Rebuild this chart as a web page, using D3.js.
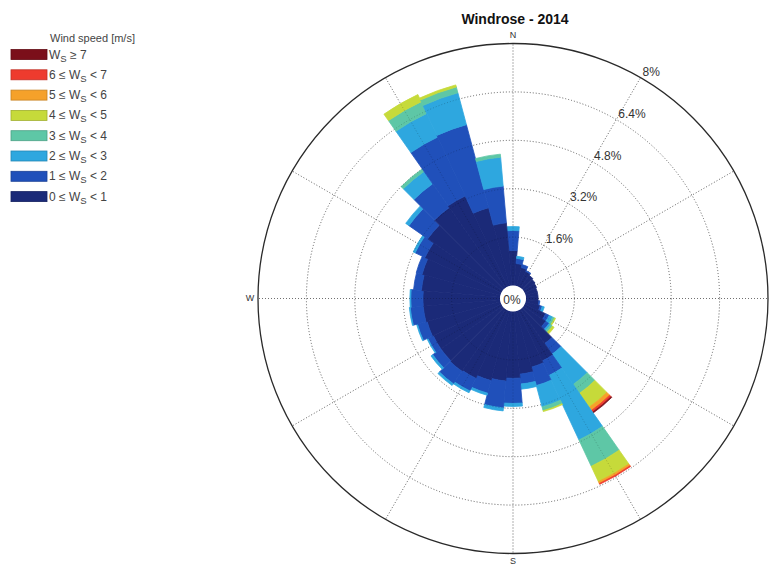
<!DOCTYPE html>
<html>
<head>
<meta charset="utf-8">
<script src="https://cdn.jsdelivr.net/npm/d3@7"></script>
<style>
  html, body { margin: 0; padding: 0; background: #fff; }
  svg { display: block; font-family: "Liberation Sans", Arial, sans-serif; background: #fff; }
</style>
</head>
<body>
<svg id="chart" width="772" height="565"></svg>
<script>
// ---------------- data ----------------
const directions = [0,10,20,30,40,50,60,70,80,90,100,110,120,130,140,150,160,170,
                    180,190,200,210,220,230,240,250,260,270,280,290,300,310,320,330,340,350];

const ws0_1 = [1.16,0.73,0.63,0.56,0.50,0.46,0.43,0.40,0.40,0.40,0.43,0.50,0.76,0.89,1.39,1.85,1.92,2.08,
               2.21,2.31,2.38,2.48,2.51,2.48,2.48,2.51,2.55,2.55,2.61,2.68,2.78,3.01,3.24,3.31,2.68,2.08];
const ws1_2 = [0.66,0.17,0.10,0.03,0,0,0,0,0,0,0.03,0.07,0.13,0.13,0.43,0.53,0.63,0.33,
               0.83,0.89,0.43,0.46,0.50,0.33,0.20,0.33,0.43,0.40,0.26,0.20,0.36,0.76,0.96,2.15,2.84,1.22];
const ws2_3 = [0.13,0.07,0,0,0,0,0,0,0,0,0,0.07,0.13,0.07,1.22,2.35,0.73,0.17,
               0.10,0.10,0.07,0.07,0.07,0.07,0.03,0.03,0.03,0.03,0,0,0.07,0.13,0.50,0.86,1.09,0.96];
const ws3_4 = [0,0,0,0,0,0,0,0,0,0,0,0,0.07,0.07,0.36,0.96,0.13,0,
               0,0,0,0,0,0,0,0,0,0,0,0,0,0,0.10,0.43,0.20,0.10];
const ws4_5 = [0,0,0,0,0,0,0,0,0,0,0,0,0.03,0.07,0.56,0.56,0.03,0,
               0,0,0,0,0,0,0,0,0,0,0,0,0,0,0,0.26,0.07,0];
const ws5_6 = [0,0,0,0,0,0,0,0,0,0,0,0,0,0,0.13,0.07,0,0,
               0,0,0,0,0,0,0,0,0,0,0,0,0,0,0,0,0,0];
const ws6_7 = [0,0,0,0,0,0,0,0,0,0,0,0,0,0,0.07,0.03,0,0,
               0,0,0,0,0,0,0,0,0,0,0,0,0,0,0,0,0,0];
const ws7up = [0,0,0,0,0,0,0,0,0,0,0,0,0,0,0.03,0,0,0,
               0,0,0,0,0,0,0,0,0,0,0,0,0,0,0,0,0,0];

const seriesValues = [ws0_1, ws1_2, ws2_3, ws3_4, ws4_5, ws5_6, ws6_7, ws7up];
const seriesColors = ["#1b2a78","#2050ba","#2ea7df","#5ec7a6","#c6da3a","#f5a12a","#ee3b2e","#7b0f1a"];
const seriesLow = ["0","1","2","3","4","5","6","7"];
const seriesHigh = ["1","2","3","4","5","6","7",null];

const ringTicks = [1.6, 3.2, 4.8, 6.4, 8];
const ringLabels = ["1.6%","3.2%","4.8%","6.4%","8%"];
const compass = [{a:0,t:"N"},{a:180,t:"S"},{a:270,t:"W"}];
const spokeAngles = [0,30,60,90,120,150,180,210,240,270,300,330];

// ---------------- layout ----------------
const svg = d3.select("#chart");
const cx = 513, cy = 298.5;
const r = d3.scaleLinear().domain([0, 8]).range([13, 255]);
const rad = d => d * Math.PI / 180;
const binHalf = 5;

const g = svg.append("g").attr("transform", `translate(${cx},${cy})`);

function drawGrid(parent, color) {
  const gg = parent.append("g");
  gg.selectAll("circle").data(ringTicks.slice(0, -1)).join("circle")
    .attr("r", d => r(d))
    .attr("fill", "none")
    .attr("stroke", color)
    .attr("stroke-width", 1)
    .attr("stroke-dasharray", "1,2");
  gg.selectAll("line").data(spokeAngles).join("line")
    .attr("x1", d => r(0) * Math.sin(rad(d)))
    .attr("y1", d => -r(0) * Math.cos(rad(d)))
    .attr("x2", d => r(8) * Math.sin(rad(d)))
    .attr("y2", d => -r(8) * Math.cos(rad(d)))
    .attr("stroke", color)
    .attr("stroke-width", 1)
    .attr("stroke-dasharray", "1,2");
  return gg;
}

// grid beneath bars
drawGrid(g, "#8c8c8c");

// stacked bars
const stacked = directions.map((dir, i) => {
  let cum = 0;
  return seriesValues.map((s, k) => {
    const lo = cum; cum += s[i];
    return {dir, k, lo, hi: cum};
  }).filter(d => d.hi > d.lo);
}).flat();

const arc = d3.arc()
  .innerRadius(d => r(d.lo))
  .outerRadius(d => r(d.hi))
  .startAngle(d => rad(d.dir - binHalf))
  .endAngle(d => rad(d.dir + binHalf));

g.append("g").selectAll("path").data(stacked).join("path")
  .attr("d", arc)
  .attr("fill", d => seriesColors[d.k])
  .attr("stroke", d => seriesColors[d.k])
  .attr("stroke-width", 0.8)
  .attr("stroke-linejoin", "round");

// faint grid over the bars (visible on light colours only)
drawGrid(g, "rgba(0,0,0,0.2)");

g.append("circle")
  .attr("r", r(8))
  .attr("fill", "none")
  .attr("stroke", "#2a2a2a")
  .attr("stroke-width", 1.3);

// center hole
g.append("circle").attr("r", r(0)).attr("fill", "#fff");
g.append("text").attr("x", -1).attr("y", 2).attr("text-anchor", "middle")
  .attr("dominant-baseline", "middle")
  .attr("font-size", 12).attr("fill", "#333").text("0%");

// ring labels along 30deg spoke
g.selectAll("text.rl").data(ringTicks).join("text")
  .attr("x", (d) => r(d) * Math.sin(rad(30)) + 2)
  .attr("y", (d) => -r(d) * Math.cos(rad(30)) - 2)
  .attr("font-size", 12).attr("fill", "#333")
  .text((d, i) => ringLabels[i]);

// compass labels
g.selectAll("text.cp").data(compass).join("text")
  .attr("x", d => (r(8) + 8) * Math.sin(rad(d.a)))
  .attr("y", d => -(r(8) + 8) * Math.cos(rad(d.a)))
  .attr("text-anchor", "middle")
  .attr("dominant-baseline", "middle")
  .attr("font-size", 9).attr("fill", "#333")
  .text(d => d.t);

// title
svg.append("text").attr("x", 515).attr("y", 24).attr("text-anchor", "middle")
  .attr("font-size", 14).attr("font-weight", "bold").attr("fill", "#111")
  .text("Windrose - 2014");

// legend
const leg = svg.append("g");
leg.append("text").attr("x", 50).attr("y", 42).attr("font-size", 11).attr("fill", "#444")
  .text("Wind speed [m/s]");
const order = [7,6,5,4,3,2,1,0];
order.forEach((k, row) => {
  const yc = 54.5 + row * 20.3;
  leg.append("rect").attr("x", 11).attr("y", yc - 5).attr("width", 36).attr("height", 10)
    .attr("fill", seriesColors[k]).attr("stroke", d3.color(seriesColors[k]).darker(0.6)).attr("stroke-width", 0.8);
  const t = leg.append("text").attr("x", 49).attr("y", yc + 4).attr("font-size", 12).attr("fill", "#444");
  if (seriesHigh[k] === null) {
    t.append("tspan").text("W");
    t.append("tspan").attr("dy", 3).attr("font-size", 9.5).text("S");
    t.append("tspan").attr("dy", -3).text(" \u2265 " + seriesLow[k]);
  } else {
    t.append("tspan").text(seriesLow[k] + " \u2264 W");
    t.append("tspan").attr("dy", 3).attr("font-size", 9.5).text("S");
    t.append("tspan").attr("dy", -3).text(" < " + seriesHigh[k]);
  }
});
</script>
</body>
</html>
